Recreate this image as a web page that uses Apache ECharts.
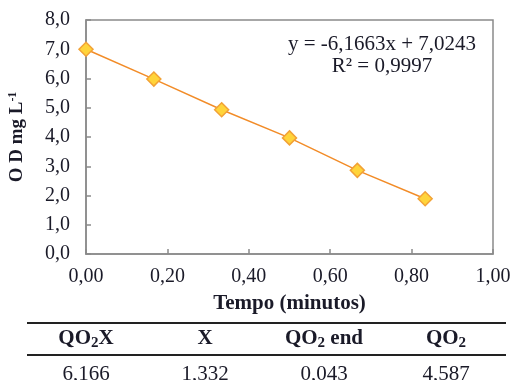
<!DOCTYPE html>
<html>
<head>
<meta charset="utf-8">
<script src="https://cdn.jsdelivr.net/npm/echarts@6/dist/echarts.min.js"></script>
<style>
  html, body { margin: 0; padding: 0; background: #fff; }
  #chart { width: 511px; height: 380px; }
</style>
</head>
<body>
<div id="chart"></div>
<script>
// Dissolved oxygen decay over time
const timeMin = [0, 0.1667, 0.3333, 0.5, 0.6667, 0.8333];
const odValues = [7.00, 5.98, 4.93, 3.97, 2.86, 1.89];

const xTicks = { min: 0, max: 1, interval: 0.2 };
const yTicks = { min: 0, max: 8, interval: 1 };

const fitEquation = 'y = -6,1663x + 7,0243';
const fitR2 = '0,9997';

// Summary table under the chart
const tableHeaders = [
  '{b|QO}{s|2}{b|X}',
  '{b|X}',
  '{b|QO}{s|2}{b| end}',
  '{b|QO}{s|2}'
];
const tableValues = ['6,166', '1,332', '0,043', '4,587'];
const tableColumnsX = [86, 205, 324, 446];

const serif = '"Liberation Serif", "DejaVu Serif", serif';
const txt = '#1a1a28';

const chart = echarts.init(document.getElementById('chart'), null, { renderer: 'canvas' });

const comma = (v, d) => v.toFixed(d).replace('.', ',');

const headRich = {
  b: { fontFamily: serif, fontWeight: 'bold', fontSize: 21, color: txt },
  s: { fontFamily: serif, fontWeight: 'bold', fontSize: 15, color: txt, padding: [9, 0, 0, 0] }
};

const graphics = [
  { type: 'line', shape: { x1: 27, y1: 323, x2: 506, y2: 323 }, style: { stroke: '#222', lineWidth: 2 } },
  { type: 'line', shape: { x1: 27, y1: 355, x2: 506, y2: 355 }, style: { stroke: '#222', lineWidth: 2 } },
  {
    type: 'text',
    x: 382, y: 33,
    style: { text: fitEquation + '\nR² = ' + fitR2, font: '21px ' + serif, fill: txt, align: 'center', lineHeight: 22 }
  }
];
tableHeaders.forEach((h, i) => {
  graphics.push({
    type: 'text',
    style: { text: h, rich: headRich, align: 'center', verticalAlign: 'middle', fill: txt },
    x: tableColumnsX[i], y: 339
  });
  graphics.push({
    type: 'text',
    style: { text: tableValues[i], font: '21px ' + serif, fill: txt, align: 'center', verticalAlign: 'top' },
    x: tableColumnsX[i], y: 364
  });
});

chart.setOption({
  animation: false,
  backgroundColor: '#fff',
  grid: {
    left: 86, right: 18, top: 20, bottom: 126,
    outerBoundsMode: 'none',
    containLabel: false,
    show: true, borderColor: '#8a8a8a', borderWidth: 1.5, backgroundColor: 'transparent'
  },
  xAxis: {
    type: 'value',
    min: xTicks.min, max: xTicks.max, interval: xTicks.interval,
    name: 'Tempo (minutos)',
    nameLocation: 'middle',
    nameGap: 39,
    nameTextStyle: { fontFamily: serif, fontWeight: 'bold', fontSize: 21, color: txt },
    axisLine: { show: true, lineStyle: { color: '#8a8a8a', width: 1.5 } },
    axisTick: { show: true, inside: true, length: 5, lineStyle: { color: '#8a8a8a', width: 1.5 } },
    splitLine: { show: false },
    axisLabel: {
      margin: 13, fontFamily: serif, fontSize: 20, color: txt,
      formatter: v => comma(v, 2)
    }
  },
  yAxis: {
    type: 'value',
    min: yTicks.min, max: yTicks.max, interval: yTicks.interval,
    name: '{n|O D mg L}{p|-1}',
    nameLocation: 'middle',
    nameGap: 59,
    nameRotate: 90,
    nameTextStyle: {
      rich: {
        n: { fontFamily: serif, fontWeight: 'bold', fontSize: 19, color: txt },
        p: { fontFamily: serif, fontWeight: 'bold', fontSize: 12, color: txt, padding: [0, 0, 8, 0] }
      }
    },
    axisLine: { show: true, lineStyle: { color: '#8a8a8a', width: 1.5 } },
    axisTick: { show: true, inside: true, length: 5, lineStyle: { color: '#8a8a8a', width: 1.5 } },
    splitLine: { show: false },
    axisLabel: {
      margin: 16, fontFamily: serif, fontSize: 20, color: txt,
      formatter: v => comma(v, 1)
    }
  },
  series: [{
    type: 'line',
    data: timeMin.map((t, i) => [t, odValues[i]]),
    symbol: 'diamond',
    symbolSize: 14,
    itemStyle: { color: '#FFD43A', borderColor: '#F2A236', borderWidth: 1.5 },
    lineStyle: { color: '#F28C28', width: 1.5 },
    z: 3
  }],
  graphic: graphics
});
</script>
</body>
</html>
